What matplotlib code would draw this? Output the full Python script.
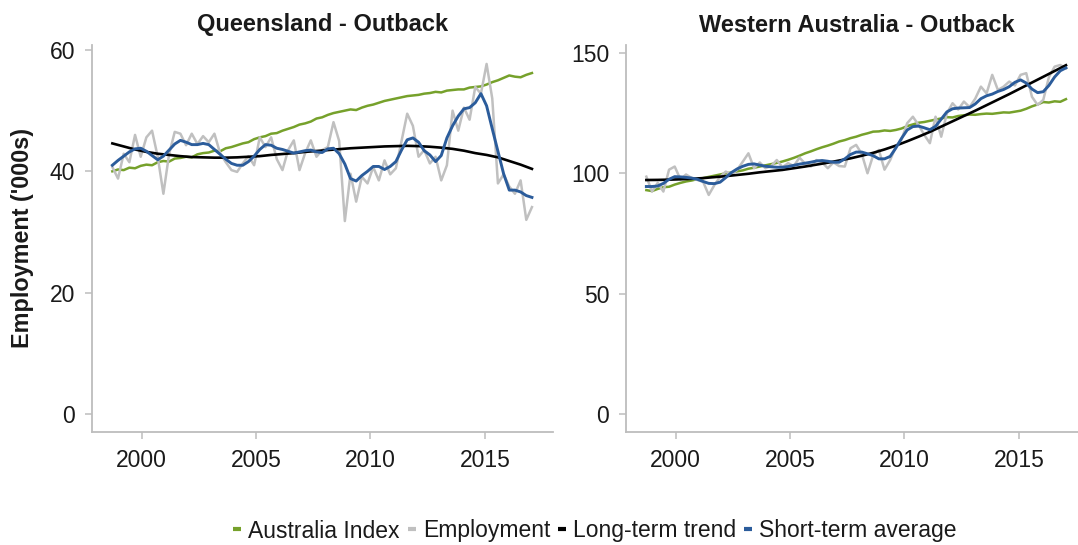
import numpy as np
import matplotlib
matplotlib.use("Agg")
import matplotlib.pyplot as plt
from matplotlib.lines import Line2D

plt.rcParams['font.family'] = ['Liberation Sans', 'DejaVu Sans']

# ---------------- data ----------------
panels = ["Queensland - Outback", "Western Australia - Outback"]
series_names = ["Australia Index", "Employment", "Long-term trend", "Short-term average"]
x_ticks = [2000, 2005, 2010, 2015]
qld_y_ticks = [0, 20, 40, 60]
wa_y_ticks = [0, 50, 100, 150]

# quarterly observation dates (start/end of series)
q_start, q_end, q_count = 1998.72, 2017.06, 75
# half-yearly dates for the long-term trend
h_count = 38

qld_index = [40.0, 40.3, 40.2, 40.6, 40.5, 40.9, 41.1, 41.0, 41.5, 41.7,
             41.6, 42.1, 42.2, 42.4, 42.3, 42.8, 43.0, 43.1, 43.4, 43.3,
             43.8, 44.0, 44.3, 44.6, 44.8, 45.3, 45.6, 45.8, 46.2, 46.3,
             46.7, 47.0, 47.3, 47.7, 47.9, 48.2, 48.7, 48.9, 49.3, 49.6,
             49.8, 50.0, 50.2, 50.1, 50.5, 50.8, 51.0, 51.3, 51.6, 51.8,
             52.0, 52.2, 52.4, 52.5, 52.6, 52.8, 52.9, 53.1, 53.0, 53.3,
             53.4, 53.5, 53.5, 53.8, 53.9, 54.0, 54.3, 54.7, 55.0, 55.4,
             55.8, 55.6, 55.5, 55.9, 56.2]
qld_employment = [40.7, 38.8, 42.9, 41.5, 46.0, 42.4, 45.6, 46.7, 42.4, 36.3,
                  42.8, 46.5, 46.2, 44.3, 46.2, 44.5, 45.8, 44.8, 46.2, 43.0,
                  41.5, 40.2, 39.9, 41.3, 42.5, 41.0, 45.6, 44.0, 45.6, 42.0,
                  40.2, 43.5, 45.1, 40.2, 43.0, 45.1, 42.4, 43.5, 44.0, 48.1,
                  45.0, 31.8, 39.6, 35.0, 39.1, 38.0, 40.7, 38.5, 41.8, 39.5,
                  40.5, 45.0, 49.5, 47.5, 42.4, 43.5, 41.3, 42.4, 38.5, 41.0,
                  50.0, 46.7, 50.5, 48.5, 53.9, 52.8, 57.7, 52.0, 38.0, 39.5,
                  37.5, 36.3, 38.5, 32.0, 34.1]
qld_short = [41.0, 41.8, 42.5, 43.2, 43.7, 43.8, 43.3, 42.6, 41.9, 42.5,
             43.5, 44.5, 45.1, 44.8, 44.4, 44.4, 44.6, 44.4, 43.6, 42.8,
             42.0, 41.3, 41.0, 41.0, 41.6, 42.5, 43.6, 44.4, 44.3, 43.8,
             43.6, 43.3, 43.0, 43.2, 43.4, 43.5, 43.2, 43.1, 43.7, 43.8,
             42.9, 41.2, 38.8, 38.4, 39.3, 40.0, 40.8, 40.8, 40.3, 40.8,
             41.6, 43.5, 45.2, 45.5, 44.8, 43.4, 42.7, 41.6, 42.6, 45.5,
             47.5, 49.1, 50.3, 50.5, 51.3, 52.8, 50.8, 47.0, 43.3, 39.6,
             36.9, 36.9, 36.6, 36.0, 35.7]
qld_trend = [44.6, 44.1, 43.6, 43.2, 42.9, 42.7, 42.5, 42.35, 42.3, 42.25,
             42.25, 42.3, 42.4, 42.5, 42.7, 42.85, 43.0, 43.2, 43.35, 43.5,
             43.65, 43.8, 43.9, 44.0, 44.1, 44.15, 44.2, 44.15, 44.05, 43.9,
             43.7, 43.4, 43.0, 42.7, 42.3, 41.7, 41.1, 40.4]

wa_index = [93.0, 92.6, 93.5, 94.2, 94.4, 95.3, 96.0, 96.6, 97.0, 97.6,
            98.0, 98.5, 99.0, 99.5, 100.0, 100.3, 100.8, 101.2, 101.9, 102.3,
            102.8, 103.3, 103.8, 104.3, 104.9, 105.6, 106.4, 107.3, 108.3, 109.1,
            110.0, 110.8, 111.5, 112.3, 113.2, 113.8, 114.6, 115.2, 116.0, 116.6,
            117.3, 117.4, 117.8, 117.6, 118.0, 118.6, 119.6, 120.3, 121.0, 121.3,
            121.8, 122.3, 122.8, 123.3, 123.2, 123.8, 124.1, 124.4, 124.3, 124.6,
            124.8, 124.7, 125.0, 125.3, 125.2, 125.6, 126.0, 126.8, 127.8, 128.6,
            129.6, 129.4, 129.9, 129.7, 130.8]
wa_employment = [98.6, 92.4, 96.0, 92.4, 101.5, 102.8, 97.5, 99.5, 98.0, 97.2,
                 96.5, 91.0, 95.1, 98.5, 100.7, 99.5, 101.4, 104.8, 108.3, 102.1,
                 104.5, 102.1, 103.0, 105.5, 102.5, 104.2, 103.0, 106.5, 104.0, 102.8,
                 105.5, 104.5, 102.1, 104.5, 103.0, 102.8, 110.4, 111.8, 108.0, 100.0,
                 107.5, 109.7, 101.5, 105.5, 111.1, 114.0, 120.8, 123.5, 120.1, 116.0,
                 112.5, 123.5, 115.2, 124.9, 129.1, 126.5, 129.8, 127.5, 131.0, 136.0,
                 133.2, 140.9, 134.6, 136.0, 138.1, 136.5, 140.9, 141.6, 131.8, 128.4,
                 130.5, 140.0, 144.3, 145.0, 143.6]
wa_short = [94.5, 94.5, 94.7, 95.8, 97.5, 98.6, 98.5, 98.3, 98.0, 97.5,
            96.6, 95.8, 95.7, 96.3, 98.2, 100.3, 101.8, 102.9, 103.7, 103.9,
            103.4, 102.9, 102.7, 102.5, 102.5, 102.8, 103.3, 103.8, 104.2, 104.6,
            105.1, 105.3, 105.0, 104.6, 104.6, 106.0, 107.8, 108.8, 108.8, 108.1,
            107.3, 106.0, 106.0, 107.0, 110.5, 114.5, 118.0, 119.4, 119.6, 118.9,
            118.1, 119.5, 122.5, 125.5, 126.8, 127.1, 127.2, 127.3, 128.8, 131.0,
            132.2, 132.9, 134.0, 134.8, 136.0, 137.8, 138.8, 137.5, 135.0, 133.5,
            133.9, 136.5, 140.0, 142.6, 143.8]
wa_trend = [97.2, 97.25, 97.35, 97.5, 97.7, 98.0, 98.4, 98.8, 99.3, 99.8,
            100.4, 100.9, 101.4, 102.1, 102.8, 103.6, 104.4, 105.3, 106.2, 107.3,
            108.5, 109.9, 111.5, 113.3, 115.2, 117.2, 119.4, 121.6, 123.8, 126.0,
            128.3, 130.6, 132.9, 135.3, 137.7, 140.1, 142.5, 144.9]

# ---------------- style ----------------
GREEN = '#76a12b'
GREY = '#c0c0c0'
BLACK = '#000000'
BLUE = '#2b5c9b'
AXIS_GREY = '#bdbdbd'
TEXT = '#1a1a1a'
FS = 16.5

t_q = np.linspace(q_start, q_end, q_count)
t_h = np.linspace(q_start, q_end, h_count)

W, H = 1078, 545
fig = plt.figure(figsize=(W / 100, H / 100), dpi=100)

ax_w = 461 / W
ax_h = 387 / H
ax_b = 1 - 432 / H
ax1 = fig.add_axes([92 / W, ax_b, ax_w, ax_h])
ax2 = fig.add_axes([626 / W, ax_b, ax_w, ax_h])

data = [
    (ax1, qld_index, qld_employment, qld_trend, qld_short, qld_y_ticks, (-2.97, 60.82)),
    (ax2, wa_index, wa_employment, wa_trend, wa_short, wa_y_ticks, (-7.5, 153.3)),
]

for ax, idx, emp, trend, short, yt, ylim in data:
    ax.plot(t_q, idx, color=GREEN, lw=1.8, solid_joinstyle='round')
    ax.plot(t_q, emp, color=GREY, lw=1.8, solid_joinstyle='round')
    ax.plot(t_h, trend, color=BLACK, lw=1.9)
    ax.plot(t_q, short, color=BLUE, lw=2.1, solid_joinstyle='round')
    ax.set_xlim(1997.83, 2017.98)
    ax.set_ylim(*ylim)
    ax.set_xticks(x_ticks)
    ax.set_xticklabels([str(v) for v in x_ticks])
    ax.set_yticks(yt)
    ax.set_yticklabels([str(v) for v in yt])
    for s in ['top', 'right']:
        ax.spines[s].set_visible(False)
    for s in ['left', 'bottom']:
        ax.spines[s].set_color(AXIS_GREY)
        ax.spines[s].set_linewidth(1.3)
    ax.tick_params(axis='both', colors=AXIS_GREY, labelcolor=TEXT,
                   labelsize=FS, width=1.1, length=5, pad=7)
    ax.set_facecolor('white')

# panel titles
fig.text(322.5 / W, 1 - 31.5 / H, panels[0], ha='center', va='baseline',
         fontsize=17, fontweight='bold', color=TEXT)
fig.text(856.5 / W, 1 - 31.5 / H, panels[1], ha='center', va='baseline',
         fontsize=17, fontweight='bold', color=TEXT)

# y label
fig.text(22.5 / W, 1 - 238.5 / H, "Employment ('000s)", rotation=90,
         ha='center', va='center', fontsize=16.8, fontweight='bold', color=TEXT)

# legend
colors = [GREEN, GREY, BLACK, BLUE]
handles = [Line2D([0], [0], color=c, lw=3.0, solid_capstyle='butt') for c in colors]
leg = fig.legend(handles, series_names, loc='center',
                 bbox_to_anchor=(595 / W, 1 - 531 / H), ncol=4, frameon=False,
                 fontsize=FS, handlelength=0.35, handletextpad=0.3,
                 columnspacing=0.35, borderaxespad=0, borderpad=0)
for txt in leg.get_texts():
    txt.set_color(TEXT)

fig.savefig('out.png', dpi=100, facecolor='white')
